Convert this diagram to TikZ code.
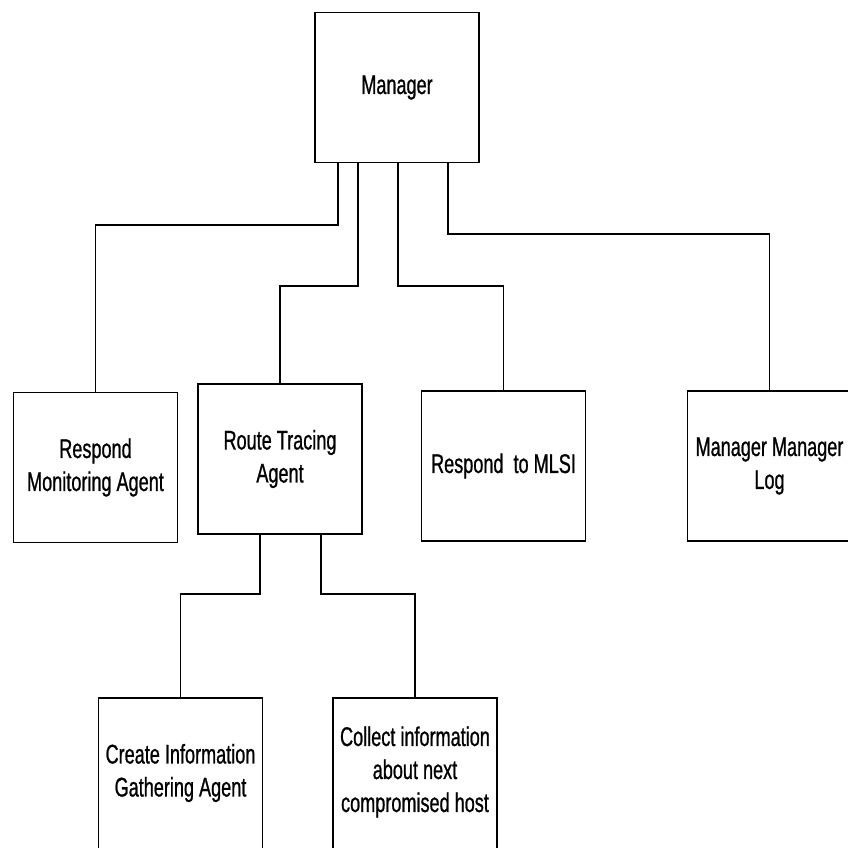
\documentclass[tikz,border=0pt]{standalone}
\usepackage{fontspec}
\setmainfont{Liberation Sans}[FakeStretch=0.67,FakeBold=0.8]
\begin{document}
\begin{tikzpicture}[x=1pt,y=-1pt,
  box/.style={draw, line width=1.3pt, minimum width=164pt, minimum height=150pt,
    align=center, inner sep=0pt, font=\fontsize{27}{33}\selectfont},
  link/.style={line width=1.3pt}]
\useasboundingbox (0,0) rectangle (847,848);

% boxes
\node[box] (mgr)  at (397,87.5)  {Manager};
\node[box] (rma)  at (95.5,467.5) {Respond\\Monitoring Agent};
\node[box] (rta)  at (280,459)   {Route Tracing\\Agent};
\node[box] (mlsi) at (503.5,466) {Respond\ \ to MLSI};
\node[box] (log)  at (769.5,466) {Manager Manager\\Log};
% the two lowest boxes run past the lower edge of the page
\node[box, minimum height=160pt] (cig)  at (180.5,778) {};
\node[box, minimum height=160pt] (coll) at (415,778)   {};
\node[align=center, inner sep=0pt, font=\fontsize{27}{33}\selectfont]
  (cigtxt) at (180.5,773) {Create Information\\Gathering Agent};
\node[align=center, inner sep=0pt, font=\fontsize{27}{33}\selectfont]
  (colltxt) at (415,772) {Collect information\\about next\\compromised host};

% elbow points of the connectors
\coordinate (k1) at (338,225);
\coordinate (k2) at (358,286);
\coordinate (k3) at (398,286);
\coordinate (k4) at (448,234);
\coordinate (k5) at (260,594);
\coordinate (k6) at (321,594);

% connectors
\draw[link] (k1 |- mgr.south) -- (k1) -| (rma.north);
\draw[link] (k2 |- mgr.south) -- (k2) -| (rta.north);
\draw[link] (k3 |- mgr.south) -- (k3) -| (mlsi.north);
\draw[link] (k4 |- mgr.south) -- (k4) -| (log.north);
\draw[link] (k5 |- rta.south) -- (k5) -| (cig.north);
\draw[link] (k6 |- rta.south) -- (k6) -| (coll.north);
\end{tikzpicture}
\end{document}
